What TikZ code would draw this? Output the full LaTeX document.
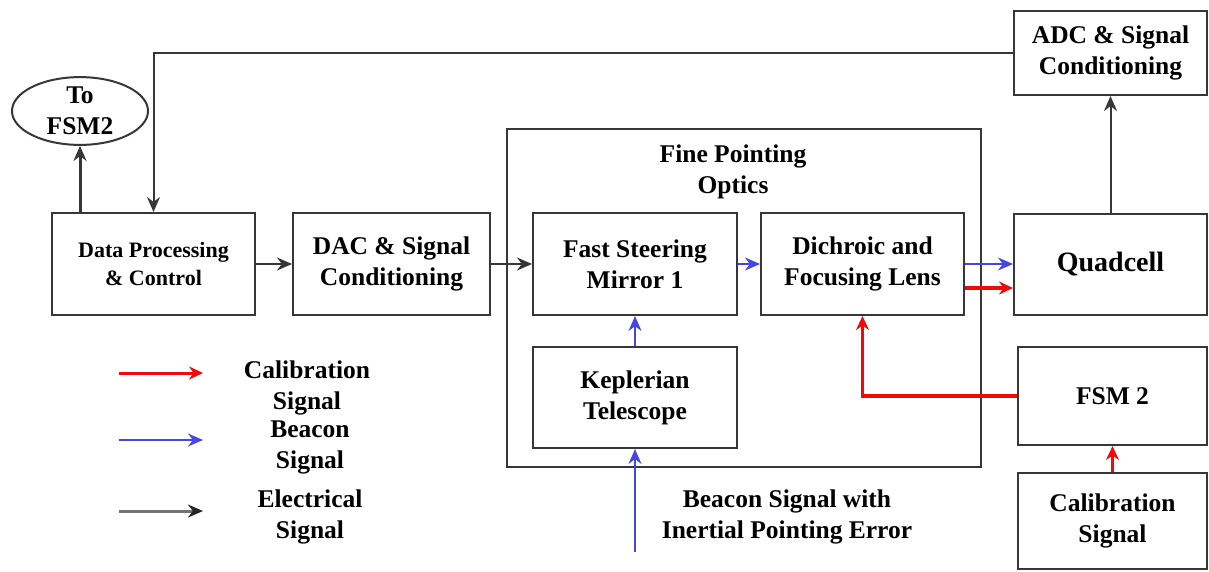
\documentclass[tikz,border=0pt]{standalone}
\usepackage{fontspec}
\setmainfont{Liberation Serif}
\usetikzlibrary{arrows.meta,shapes.geometric}
\definecolor{elecgray}{RGB}{55,55,55}
\definecolor{beaconblue}{RGB}{70,70,225}
\definecolor{calibred}{RGB}{240,10,10}
\tikzset{
  blk/.style={draw=elecgray,line width=2pt,align=center,font=\bfseries\fontsize{25.5}{31}\selectfont},
  lbl/.style={align=center,font=\bfseries\fontsize{25.5}{31}\selectfont},
  elec/.style={draw=elecgray,line width=2pt,-{Stealth[length=15pt,width=13pt]}},
  beacon/.style={draw=beaconblue,line width=1.5pt,-{Stealth[length=15pt,width=13pt]}},
  calib/.style={draw=calibred,line width=3.5pt,-{Stealth[length=14pt,width=13pt]}}
}
\begin{document}
\begin{tikzpicture}[x=1pt,y=-1pt]
    \useasboundingbox (0,0) rectangle (1209,571);
    \node[blk,ellipse,minimum width=136pt,minimum height=66pt,inner sep=0pt] (tofsm) at (80,111) {To\\FSM2};
    \node[blk,minimum width=203pt,minimum height=102pt,font=\bfseries\fontsize{22}{28}\selectfont] (dpc) at (153.5,264) {Data Processing\\\& Control};
    \node[blk,minimum width=197pt,minimum height=102pt] (dac) at (391.5,264) {DAC \& Signal\\Conditioning};
    \node[blk,minimum width=474pt,minimum height=338pt] (fpo) at (744,298) {};
    \node[lbl] (fpt) at (733,172) {Fine Pointing\\Optics};
    \node[blk,minimum width=204pt,minimum height=102pt] (fsm1) at (635,264) {Fast Steering\\Mirror 1};
    \node[blk,minimum width=203pt,minimum height=102pt] (dcl) at (862.5,264) {Dichroic and\\Focusing Lens};
    \node[blk,minimum width=204pt,minimum height=101pt] (kep) at (635,397.5) {Keplerian\\Telescope};
    \node[blk,minimum width=193pt,minimum height=101pt,font=\bfseries\fontsize{28}{34}\selectfont] (qc) at (1110.5,264) {Quadcell};
    \node[blk,minimum width=193pt,minimum height=84pt] (adc) at (1110.5,53) {ADC \& Signal\\Conditioning};
    \node[blk,minimum width=189pt,minimum height=98pt] (fsm2) at (1112.5,396) {FSM 2};
    \node[blk,minimum width=189pt,minimum height=96pt] (cal) at (1112.5,521) {Calibration\\Signal};
    \node[lbl] (bsig) at (787,517) {Beacon Signal with\\Inertial Pointing Error};
    \coordinate (bin) at (635,552);
    \draw[elec,line width=3pt] (dpc.north -| tofsm.south) -- (tofsm.south);
    \draw[elec] (adc.west) -| (dpc.north);
    \draw[elec] (dpc.east) -- (dac.west);
    \draw[elec] (dac.east) -- (fsm1.west);
    \draw[beacon] (fsm1.east) -- (dcl.west);
    \draw[beacon] (kep.north) -- (fsm1.south);
    \draw[beacon] (bin) -- (kep.south);
    \draw[beacon] (dcl.east) -- (qc.west);
    \draw[calib] ([yshift=-24pt]dcl.east) -- ([yshift=-24pt]qc.west);
    \draw[elec] (qc.north) -- (adc.south);
    \draw[calib] (cal.north) -- (fsm2.south);
    \draw[calib] (fsm2.west) -| (dcl.south);
    % legend
    \coordinate (lcs) at (119,373);
    \coordinate (lce) at (203,373);
    \coordinate (lbs) at (119,440);
    \coordinate (lbe) at (203,440);
    \coordinate (les) at (119,511);
    \coordinate (lee) at (203,511);
    \draw[calib,line width=3pt] (lcs) -- (lce);
    \draw[beacon] (lbs) -- (lbe);
    \draw[elec,draw=black!55,line width=3pt,-{Stealth[length=15pt,width=13pt,color=black!85]}] (les) -- (lee);
    \node[lbl] (lcal) at (307,388) {Calibration\\Signal};
    \node[lbl] (lbea) at (310,447) {Beacon\\Signal};
    \node[lbl] (lele) at (310,517) {Electrical\\Signal};
\end{tikzpicture}
\end{document}
